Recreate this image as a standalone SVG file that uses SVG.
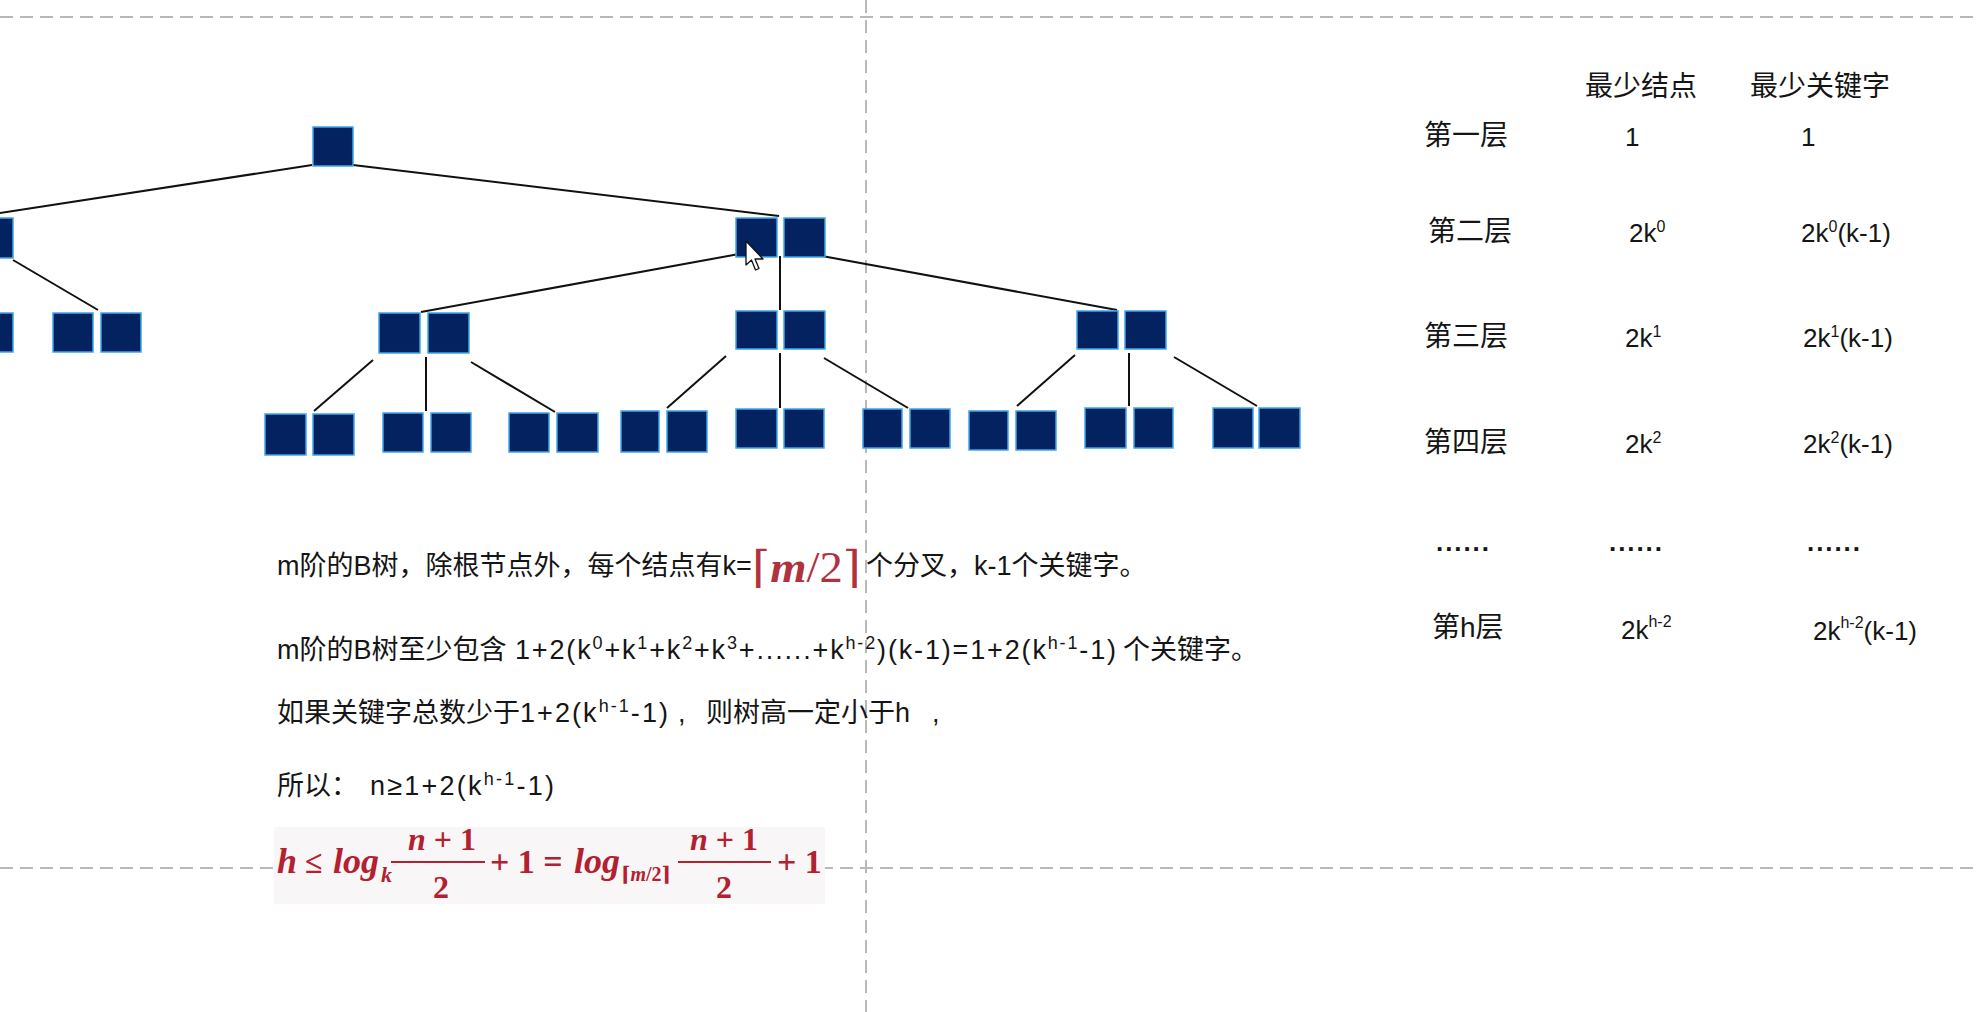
<svg xmlns="http://www.w3.org/2000/svg" width="1976" height="1012" viewBox="0 0 1976 1012">
<style>
.bg{fill:#ffffff}
.dash{stroke:#b8b8b8;stroke-width:2;stroke-dasharray:13 7;fill:none}
.key{fill:#03225f;stroke:#3fa6ea;stroke-width:1.5}
.edge{stroke:#111;stroke-width:2;fill:none}
.t{font-family:"Liberation Sans","Noto Sans CJK SC",sans-serif;font-size:27px;fill:#151515}
.h{font-family:"Liberation Sans","Noto Sans CJK SC",sans-serif;font-size:28px;fill:#151515}
.n{font-family:"Liberation Sans","Noto Sans CJK SC",sans-serif;font-size:26px;fill:#151515}
.sup{font-size:16px}
.sup2{font-size:18px}
.f{font-family:"Liberation Serif","DejaVu Serif",serif;font-weight:bold;fill:#b3202f}
.fi{font-family:"Liberation Serif","DejaVu Serif",serif;font-style:italic;font-weight:bold;fill:#b3202f}
.red{font-family:"Liberation Serif","DejaVu Serif",serif;fill:#b0323e}
</style>
<rect class="bg" x="0" y="0" width="1976" height="1012"/>

<g id="guides">
<line class="dash" x1="0" y1="17" x2="1976" y2="17"/>
<line class="dash" x1="866" y1="0" x2="866" y2="1012"/>
<line class="dash" x1="0" y1="868" x2="1976" y2="868"/>
</g>

<g id="connectors">
<line class="edge" x1="312" y1="165" x2="0" y2="213"/>
<line class="edge" x1="353" y1="165" x2="779" y2="216"/>
<line class="edge" x1="13" y1="260" x2="98" y2="310"/>
<line class="edge" x1="739" y1="254" x2="421" y2="312"/>
<line class="edge" x1="780" y1="256" x2="780" y2="310"/>
<line class="edge" x1="822" y1="256" x2="1117" y2="310"/>
<line class="edge" x1="373" y1="360" x2="314" y2="411"/>
<line class="edge" x1="426" y1="357" x2="426" y2="411"/>
<line class="edge" x1="471" y1="362" x2="555" y2="412"/>
<line class="edge" x1="726" y1="356" x2="667" y2="408"/>
<line class="edge" x1="780" y1="353" x2="780" y2="408"/>
<line class="edge" x1="824" y1="358" x2="908" y2="408"/>
<line class="edge" x1="1075" y1="355" x2="1017" y2="406"/>
<line class="edge" x1="1129" y1="353" x2="1129" y2="406"/>
<line class="edge" x1="1174" y1="357" x2="1257" y2="406"/>
</g>

<g id="node-root"><rect class="key" x="313" y="127" width="40" height="39"/></g>
<g id="node-l2-left"><rect class="key" x="-28" y="218" width="41" height="40"/></g>
<g id="node-l2-right"><rect class="key" x="736" y="218" width="41" height="39"/><rect class="key" x="784" y="218" width="41" height="39"/></g>
<g id="node-l3-a"><rect class="key" x="-28" y="313" width="41" height="39"/></g>
<g id="node-l3-b"><rect class="key" x="53" y="313" width="40" height="39"/><rect class="key" x="101" y="313" width="40" height="39"/></g>
<g id="node-l3-c"><rect class="key" x="379" y="313" width="41" height="40"/><rect class="key" x="428" y="313" width="41" height="40"/></g>
<g id="node-l3-d"><rect class="key" x="736" y="311" width="41" height="38"/><rect class="key" x="784" y="311" width="41" height="38"/></g>
<g id="node-l3-e"><rect class="key" x="1077" y="311" width="41" height="38"/><rect class="key" x="1125" y="311" width="41" height="38"/></g>
<g id="node-l4-a"><rect class="key" x="265" y="414" width="41" height="41"/><rect class="key" x="313" y="414" width="41" height="41"/></g>
<g id="node-l4-b"><rect class="key" x="383" y="413" width="40" height="39"/><rect class="key" x="431" y="413" width="40" height="39"/></g>
<g id="node-l4-c"><rect class="key" x="509" y="413" width="40" height="39"/><rect class="key" x="557" y="413" width="41" height="39"/></g>
<g id="node-l4-d"><rect class="key" x="621" y="411" width="38" height="41"/><rect class="key" x="667" y="411" width="40" height="41"/></g>
<g id="node-l4-e"><rect class="key" x="736" y="409" width="41" height="39"/><rect class="key" x="784" y="409" width="40" height="39"/></g>
<g id="node-l4-f"><rect class="key" x="863" y="409" width="39" height="39"/><rect class="key" x="910" y="409" width="40" height="39"/></g>
<g id="node-l4-g"><rect class="key" x="969" y="411" width="39" height="39"/><rect class="key" x="1016" y="411" width="40" height="39"/></g>
<g id="node-l4-h"><rect class="key" x="1085" y="408" width="41" height="40"/><rect class="key" x="1134" y="408" width="39" height="40"/></g>
<g id="node-l4-i"><rect class="key" x="1213" y="408" width="40" height="40"/><rect class="key" x="1259" y="408" width="41" height="40"/></g>

<g id="cursor"><polygon points="746,241 746,265 751.5,260 755.5,270 759,268.5 755,259 763,259" fill="#ffffff" stroke="#111" stroke-width="1.3" stroke-linejoin="round"/></g>

<g id="table">
<text class="h" x="1585" y="96">最少结点</text>
<text class="h" x="1750" y="96">最少关键字</text>
<text class="h" x="1424" y="145">第一层</text>
<text class="n" x="1625" y="146">1</text>
<text class="n" x="1801" y="146">1</text>
<text class="h" x="1428" y="241">第二层</text>
<text class="n" x="1629" y="242">2k<tspan class="sup" dy="-10">0</tspan></text>
<text class="n" x="1801" y="242">2k<tspan class="sup" dy="-10">0</tspan><tspan dy="10">(k-1)</tspan></text>
<text class="h" x="1424" y="346">第三层</text>
<text class="n" x="1625" y="347">2k<tspan class="sup" dy="-10">1</tspan></text>
<text class="n" x="1803" y="347">2k<tspan class="sup" dy="-10">1</tspan><tspan dy="10">(k-1)</tspan></text>
<text class="h" x="1424" y="452">第四层</text>
<text class="n" x="1625" y="453">2k<tspan class="sup" dy="-10">2</tspan></text>
<text class="n" x="1803" y="453">2k<tspan class="sup" dy="-10">2</tspan><tspan dy="10">(k-1)</tspan></text>
<text class="n" x="1436" y="551" textLength="53" lengthAdjust="spacing" font-weight="bold">......</text>
<text class="n" x="1609" y="551" textLength="53" lengthAdjust="spacing" font-weight="bold">......</text>
<text class="n" x="1807" y="551" textLength="53" lengthAdjust="spacing" font-weight="bold">......</text>
<text class="h" x="1432" y="637">第h层</text>
<text class="n" x="1621" y="639">2k<tspan class="sup" dy="-12">h-2</tspan></text>
<text class="n" x="1813" y="640">2k<tspan class="sup" dy="-12">h-2</tspan><tspan dy="12">(k-1)</tspan></text>
</g>

<g id="notes">
<text class="t" x="277" y="575">m阶的B树，除根节点外，每个结点有k=</text>
<text class="red" x="752" y="582" font-size="44" textLength="109" lengthAdjust="spacingAndGlyphs">⌈<tspan font-style="italic" font-weight="bold">m</tspan>/2⌉</text>
<text class="t" x="866" y="575">个分叉，k-1个关键字。</text>

<text class="t" x="277" y="659">m阶的B树至少包含</text>
<text class="t" x="515" y="659" font-size="28" textLength="601" lengthAdjust="spacing">1+2(k<tspan class="sup2" dy="-10">0</tspan><tspan dy="10">+k</tspan><tspan class="sup2" dy="-10">1</tspan><tspan dy="10">+k</tspan><tspan class="sup2" dy="-10">2</tspan><tspan dy="10">+k</tspan><tspan class="sup2" dy="-10">3</tspan><tspan dy="10">+......+k</tspan><tspan class="sup2" dy="-10">h-2</tspan><tspan dy="10">)(k-1)=1+2(k</tspan><tspan class="sup2" dy="-10">h-1</tspan><tspan dy="10">-1)</tspan></text>
<text class="t" x="1123" y="659">个关键字。</text>

<text class="t" x="277" y="722">如果关键字总数少于</text>
<text class="t" x="520" y="722" font-size="29" textLength="148" lengthAdjust="spacing">1+2(k<tspan class="sup2" dy="-10">h-1</tspan><tspan dy="10">-1)</tspan></text>
<text class="t" x="678" y="722">,</text>
<text class="t" x="706" y="722">则树高一定小于h</text>
<text class="t" x="932" y="722">,</text>

<text class="t" x="277" y="795">所以：</text>
<text class="t" x="370" y="795" font-size="29" textLength="184" lengthAdjust="spacing">n≥1+2(k<tspan class="sup2" dy="-10">h-1</tspan><tspan dy="10">-1)</tspan></text>
</g>

<g id="formula">
<rect x="274" y="827" width="551" height="77" fill="#f8f6f6"/>
<text class="fi" x="277" y="873" font-size="36">h</text>
<text class="f" x="305" y="873" font-size="32">≤</text>
<text class="fi" x="333" y="873" font-size="36">log</text>
<text class="fi" x="381" y="882" font-size="22">k</text>
<text class="f" x="442" y="850" font-size="32" text-anchor="middle"><tspan font-style="italic">n</tspan> + 1</text>
<line x1="391" y1="862" x2="485" y2="862" stroke="#b3202f" stroke-width="2.2"/>
<text class="f" x="441" y="898" font-size="32" text-anchor="middle">2</text>
<text class="f" x="490" y="873" font-size="34">+ 1 =</text>
<text class="fi" x="574" y="873" font-size="36">log</text>
<text class="f" x="621" y="881" font-size="20">⌈<tspan font-style="italic">m</tspan>/2⌉</text>
<text class="f" x="724" y="850" font-size="32" text-anchor="middle"><tspan font-style="italic">n</tspan> + 1</text>
<line x1="678" y1="862" x2="771" y2="862" stroke="#b3202f" stroke-width="2.2"/>
<text class="f" x="724" y="898" font-size="32" text-anchor="middle">2</text>
<text class="f" x="777" y="873" font-size="34">+ 1</text>
</g>
</svg>
